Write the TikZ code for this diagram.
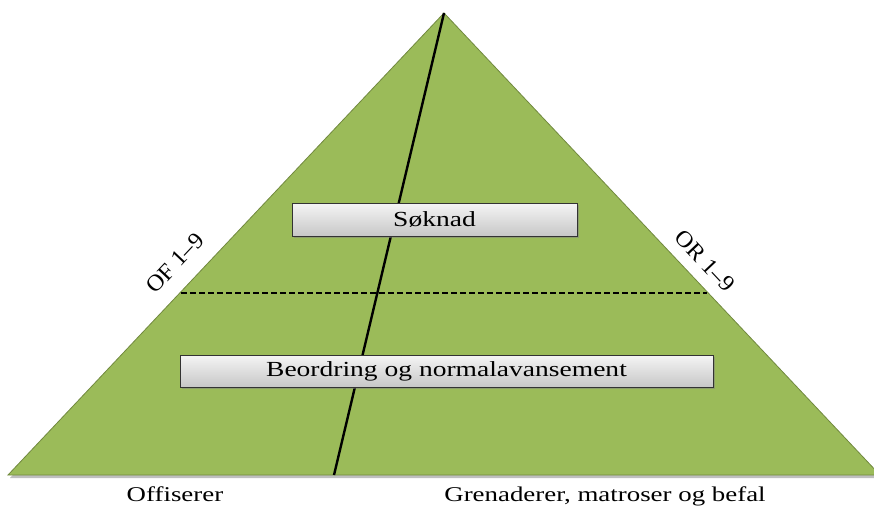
\documentclass[tikz,border=0pt]{standalone}
\usepackage{fontspec}
\setmainfont{Liberation Serif}[FakeStretch=1.28]
\newfontfamily\rotfont{Liberation Serif}[FakeStretch=1.05]
\usetikzlibrary{shadows}
\definecolor{pyrgreen}{HTML}{9BBB59}
\definecolor{pyredge}{HTML}{71893F}
\tikzset{
  lbl/.style={font=\fontsize{21}{24}\selectfont, inner sep=0pt, anchor=base},
  rotlbl/.style={font=\rotfont\fontsize{23}{26}\selectfont, inner sep=0pt},
  graybox/.style={draw=black!80, line width=0.8pt, top color=white!96!black, bottom color=black!22,
    drop shadow={shadow xshift=2pt, shadow yshift=-2pt, opacity=0.5},
    inner sep=0pt, font=\fontsize{21.5}{24}\selectfont},
}
\begin{document}
\begin{tikzpicture}[x=1pt,y=-1pt]
\useasboundingbox (0,0) rectangle (874,506);
\begin{scope}
\clip (0,0) rectangle (874,506);
\coordinate (apex) at (444,13);
\coordinate (bl) at (8,475);
\coordinate (br) at (880,475);
\coordinate (base) at (334,475);
\coordinate (dl) at (181,293);
\coordinate (dr) at (707,293);
\fill[black, opacity=0.25] ([shift={(2,3)}]apex) -- ([shift={(2,3)}]br) -- ([shift={(2,3)}]bl) -- cycle;
\filldraw[fill=pyrgreen, draw=pyredge, line width=0.8pt] (apex) -- (br) -- (bl) -- cycle;
\draw[line width=2.4pt] (apex) -- (base);
\draw[dashed, line width=1.3pt, dash pattern=on 6pt off 3pt] (dl) -- (dr);
\end{scope}
\node[graybox, minimum width=285pt, minimum height=33pt] (soknad) at (434.5,219.5) {Søknad};
\node[graybox, minimum width=533pt, minimum height=32pt] (beord) at (446.5,371) {Beordring og normalavansement};
\node[rotlbl, rotate=46.7] (of) at (175,263) {OF 1–9};
\node[rotlbl, rotate=-46.7] (or) at (705,261) {OR 1–9};
\node[lbl] (off) at (175,501) {Offiserer};
\node[lbl] (gren) at (605,501) {Grenaderer, matroser og befal};
\end{tikzpicture}
\end{document}
